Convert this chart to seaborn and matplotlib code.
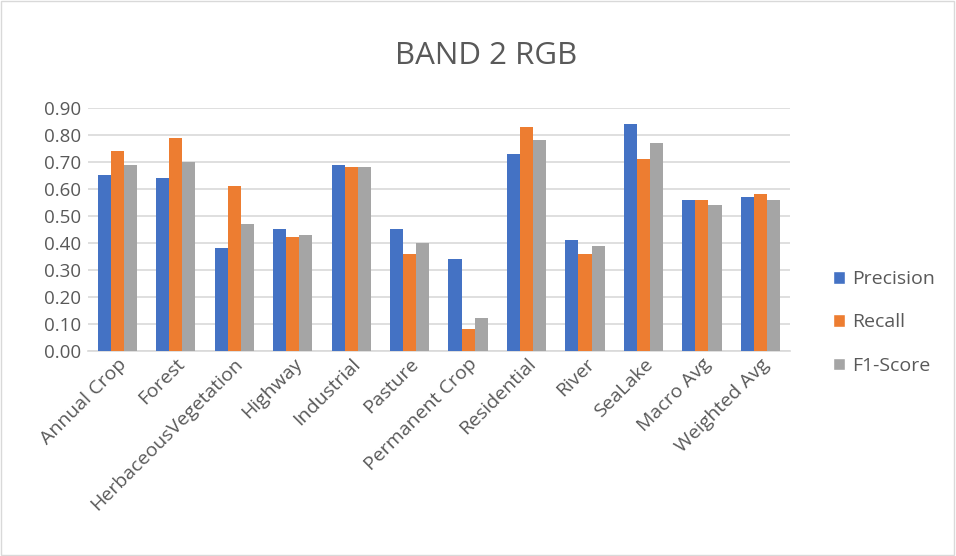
import numpy as np
import pandas as pd
import matplotlib
matplotlib.use("Agg")
import matplotlib.pyplot as plt
import seaborn as sns
from matplotlib.patches import Patch, Rectangle

# ===================== Data =====================
categories = ['Annual Crop', 'Forest', 'HerbaceousVegetation', 'Highway', 'Industrial',
              'Pasture', 'Permanent Crop', 'Residential', 'River', 'SeaLake',
              'Macro Avg', 'Weighted Avg']
precision = [0.65, 0.64, 0.38, 0.45, 0.69, 0.45, 0.34, 0.73, 0.41, 0.84, 0.56, 0.57]
recall = [0.74, 0.79, 0.61, 0.42, 0.68, 0.36, 0.08, 0.83, 0.36, 0.71, 0.56, 0.58]
f1_score = [0.69, 0.70, 0.47, 0.43, 0.68, 0.40, 0.12, 0.78, 0.39, 0.77, 0.54, 0.56]
series_names = ['Precision', 'Recall', 'F1-Score']
y_ticks = [0.0, 0.1, 0.2, 0.3, 0.4, 0.5, 0.6, 0.7, 0.8, 0.9]

df = pd.DataFrame({'Class': categories, 'Precision': precision,
                   'Recall': recall, 'F1-Score': f1_score})
long_df = df.melt(id_vars='Class', var_name='Metric', value_name='Score')

palette = {'Precision': '#4472C4', 'Recall': '#ED7D31', 'F1-Score': '#A5A5A5'}
text_color = '#595959'

# ===================== Style =====================
sns.set_style('white')
plt.rcParams['font.family'] = ['Open Sans', 'DejaVu Sans']

fig = plt.figure(figsize=(9.56, 5.56), dpi=100)
ax = fig.add_axes([0.092, 0.369, 0.734, 0.437])

sns.barplot(data=long_df, x='Class', y='Score', hue='Metric',
            order=categories, hue_order=series_names, palette=palette,
            width=0.67, gap=0, saturation=1, legend=False, ax=ax,
            linewidth=0, zorder=3)

ax.set_ylim(0, 0.9)
ax.set_xlim(-0.5, len(categories) - 0.5)
ax.set_yticks(y_ticks)
ax.set_yticklabels([f"{t:.2f}" for t in y_ticks])
ax.grid(axis='y', color='#D9D9D9', linewidth=1.2, zorder=0)
ax.set_axisbelow(True)
for side in ['top', 'right', 'left']:
    ax.spines[side].set_visible(False)
ax.spines['bottom'].set_color('#D9D9D9')
ax.spines['bottom'].set_linewidth(1.2)

ax.tick_params(axis='y', length=0, labelsize=13.5, labelcolor=text_color, pad=5)
ax.tick_params(axis='x', length=0, labelsize=14, labelcolor=text_color, pad=3)
plt.setp(ax.get_xticklabels(), rotation=45, ha='right', rotation_mode='anchor')
ax.set_xlabel('')
ax.set_ylabel('')

fig.text(0.509, 0.9, 'BAND 2 RGB', ha='center', va='center',
         fontsize=22.5, color=text_color)

handles = [Patch(facecolor=palette[s], label=s) for s in series_names]
leg = fig.legend(handles=handles, loc='center left', bbox_to_anchor=(0.853, 0.42),
                 frameon=False, fontsize=14, labelspacing=1.3,
                 handlelength=0.6, handleheight=0.6, handletextpad=0.4)
for t in leg.get_texts():
    t.set_color(text_color)

fig.patches.append(Rectangle((0.001, 0.001), 0.997, 0.997, transform=fig.transFigure,
                             fill=False, edgecolor='#D9D9D9', linewidth=1))

fig.savefig('out.png', dpi=100, facecolor='white')
